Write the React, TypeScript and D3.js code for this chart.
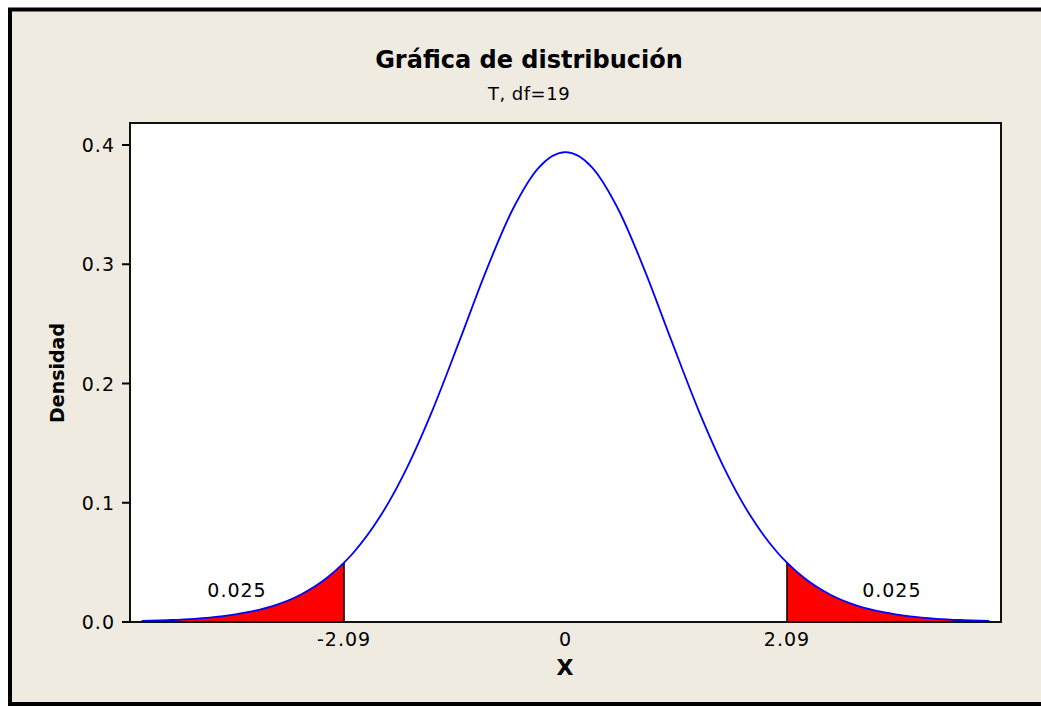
import React from "react";
import * as d3 from "d3";

// t-distribution (df = 19) density
const xValues = [-4, -3.75, -3.5, -3.25, -3, -2.75, -2.5, -2.25, -2.09, -2, -1.75, -1.5, -1.25, -1, -0.75, -0.5, -0.25, 0, 0.25, 0.5, 0.75, 1, 1.25, 1.5, 1.75, 2, 2.09, 2.25, 2.5, 2.75, 3, 3.25, 3.5, 3.75, 4];
const densityValues = [0.0009, 0.0016, 0.0027, 0.0047, 0.0082, 0.0138, 0.0229, 0.0371, 0.0497, 0.0583, 0.0884, 0.1287, 0.1788, 0.2359, 0.2943, 0.3457, 0.3813, 0.394, 0.3813, 0.3457, 0.2943, 0.2359, 0.1788, 0.1287, 0.0884, 0.0583, 0.0497, 0.0371, 0.0229, 0.0138, 0.0082, 0.0047, 0.0027, 0.0016, 0.0009];
const criticalValues = [-2.09, 2.09];
const tailAreas = ["0.025", "0.025"];
const tailLabelX = [-3.1, 3.08];
const xTickValues = [-2.09, 0, 2.09];
const xTickLabels = ["-2.09", "0", "2.09"];
const yTickValues = [0, 0.1, 0.2, 0.3, 0.4];
const yTickLabels = ["0.0", "0.1", "0.2", "0.3", "0.4"];

const W = 1041;
const H = 707;
const plot = { left: 130, right: 1001, top: 123, bottom: 622 };
const FONT = "'DejaVu Sans', Verdana, sans-serif";

export default function App() {
  const x = d3.scaleLinear().domain([-4.11, 4.11]).range([plot.left, plot.right]);
  const y = d3.scaleLinear().domain([0, 0.4]).range([plot.bottom, plot.bottom - 0.4 * 1192.5]);

  const pts = xValues.map((v, i) => ({ x: v, d: densityValues[i] }));
  const line = d3.line<{ x: number; d: number }>().x((p) => x(p.x)).y((p) => y(p.d)).curve(d3.curveMonotoneX);
  const area = d3.area<{ x: number; d: number }>().x((p) => x(p.x)).y0(y(0)).y1((p) => y(p.d)).curve(d3.curveMonotoneX);
  const leftTail = pts.filter((p) => p.x <= criticalValues[0]);
  const rightTail = pts.filter((p) => p.x >= criticalValues[1]);
  const critD = criticalValues.map((c) => densityValues[xValues.indexOf(c)]);

  return (
    <svg width={W} height={H} style={{ position: "fixed", left: 0, top: 0, background: "#fff" }}>
      <rect x={10} y={9.5} width={1100} height={694.5} fill="#EFEBE1" stroke="#000" strokeWidth={4} />
      <text x={529} y={68} textAnchor="middle" fontFamily={FONT} fontWeight="bold" fontSize={24} fill="#000">Gráfica de distribución</text>
      <text x={529} y={100} textAnchor="middle" fontFamily={FONT} fontSize={18} letterSpacing={0.5} fill="#000">T, df=19</text>

      <rect x={plot.left} y={plot.top} width={plot.right - plot.left} height={plot.bottom - plot.top} fill="#fff" />

      <path d={area(leftTail) || ""} fill="#FF0000" />
      <path d={area(rightTail) || ""} fill="#FF0000" />
      {criticalValues.map((c, i) => (
        <line key={"c" + i} x1={x(c)} x2={x(c)} y1={y(0)} y2={y(critD[i])} stroke="#000" strokeWidth={1.5} />
      ))}
      <path d={line(pts) || ""} fill="none" stroke="#0000FF" strokeWidth={1.8} />

      <rect x={plot.left} y={plot.top} width={plot.right - plot.left} height={plot.bottom - plot.top} fill="none" stroke="#111" strokeWidth={2} />

      {yTickValues.map((v, i) => (
        <g key={"y" + i}>
          <line x1={plot.left - 8} x2={plot.left} y1={y(v)} y2={y(v)} stroke="#000" strokeWidth={2} />
          <text x={plot.left - 15} y={y(v) + 7} textAnchor="end" fontFamily={FONT} fontSize={19} letterSpacing={1} fill="#000">{yTickLabels[i]}</text>
        </g>
      ))}
      {xTickValues.map((v, i) => (
        <text key={"x" + i} x={x(v)} y={plot.bottom + 24} textAnchor="middle" fontFamily={FONT} fontSize={19} letterSpacing={1} fill="#000">{xTickLabels[i]}</text>
      ))}
      {tailAreas.map((t, i) => (
        <text key={"t" + i} x={x(tailLabelX[i])} y={597} textAnchor="middle" fontFamily={FONT} fontSize={19} letterSpacing={1} fill="#000">{t}</text>
      ))}

      <text x={565} y={675} textAnchor="middle" fontFamily={FONT} fontWeight="bold" fontSize={22} fill="#000">X</text>
      <text transform="translate(64,373) rotate(-90)" textAnchor="middle" fontFamily={FONT} fontWeight="bold" fontSize={19} fill="#000">Densidad</text>
    </svg>
  );
}
